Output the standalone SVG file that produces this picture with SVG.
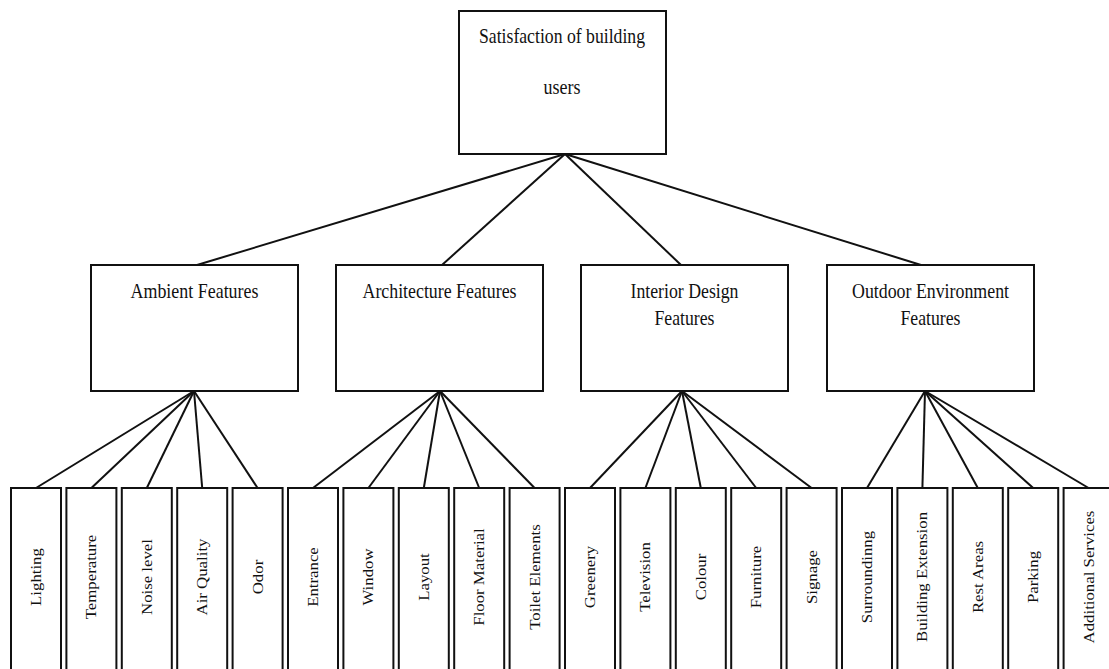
<svg xmlns="http://www.w3.org/2000/svg" width="1109" height="669" viewBox="0 0 1109 669">
<style>
.box{fill:#fff;stroke:#111;stroke-width:2}
.ln{stroke:#111;stroke-width:2;fill:none}
.t{font-family:"Liberation Serif","Times New Roman",serif;font-size:21px;fill:#111;text-anchor:middle}
.lt{font-family:"Liberation Serif","Times New Roman",serif;font-size:16.8px;fill:#111;text-anchor:middle;dominant-baseline:central}
</style>
<rect width="1109" height="669" fill="#fff"/>
<g id="connectors">
<line class="ln" x1="565" y1="154" x2="197" y2="265"/>
<line class="ln" x1="565" y1="154" x2="442" y2="265"/>
<line class="ln" x1="565" y1="154" x2="681" y2="265"/>
<line class="ln" x1="565" y1="154" x2="921" y2="265"/>
<line class="ln" x1="194" y1="391" x2="36" y2="488"/>
<line class="ln" x1="194" y1="391" x2="91.4" y2="488"/>
<line class="ln" x1="194" y1="391" x2="146.8" y2="488"/>
<line class="ln" x1="194" y1="391" x2="202.2" y2="488"/>
<line class="ln" x1="194" y1="391" x2="257.6" y2="488"/>
<line class="ln" x1="440" y1="391" x2="313" y2="488"/>
<line class="ln" x1="440" y1="391" x2="368.4" y2="488"/>
<line class="ln" x1="440" y1="391" x2="423.8" y2="488"/>
<line class="ln" x1="440" y1="391" x2="479.2" y2="488"/>
<line class="ln" x1="440" y1="391" x2="534.6" y2="488"/>
<line class="ln" x1="682" y1="391" x2="590" y2="488"/>
<line class="ln" x1="682" y1="391" x2="645.4" y2="488"/>
<line class="ln" x1="682" y1="391" x2="700.8" y2="488"/>
<line class="ln" x1="682" y1="391" x2="756.2" y2="488"/>
<line class="ln" x1="682" y1="391" x2="811.6" y2="488"/>
<line class="ln" x1="925" y1="391" x2="867" y2="488"/>
<line class="ln" x1="925" y1="391" x2="922.4" y2="488"/>
<line class="ln" x1="925" y1="391" x2="977.8" y2="488"/>
<line class="ln" x1="925" y1="391" x2="1033.2" y2="488"/>
<line class="ln" x1="925" y1="391" x2="1088.6" y2="488"/>
</g>
<g id="root">
<rect class="box" x="459" y="11" width="207" height="143"/>
<text class="t" x="562" y="43" textLength="166" lengthAdjust="spacingAndGlyphs">Satisfaction of building</text>
<text class="t" x="562" y="94" textLength="37" lengthAdjust="spacingAndGlyphs">users</text>
</g>
<g id="ambient">
<rect class="box" x="91" y="265" width="207" height="126"/>
<text class="t" x="194.5" y="298" textLength="128" lengthAdjust="spacingAndGlyphs">Ambient Features</text>
</g>
<g id="architecture">
<rect class="box" x="336" y="265" width="207" height="126"/>
<text class="t" x="439.5" y="298" textLength="154" lengthAdjust="spacingAndGlyphs">Architecture Features</text>
</g>
<g id="interior">
<rect class="box" x="581" y="265" width="207" height="126"/>
<text class="t" x="684.5" y="298" textLength="108" lengthAdjust="spacingAndGlyphs">Interior Design</text>
<text class="t" x="684.5" y="325" textLength="60" lengthAdjust="spacingAndGlyphs">Features</text>
</g>
<g id="outdoor">
<rect class="box" x="827" y="265" width="207" height="126"/>
<text class="t" x="930.5" y="298" textLength="157" lengthAdjust="spacingAndGlyphs">Outdoor Environment</text>
<text class="t" x="930.5" y="325" textLength="60" lengthAdjust="spacingAndGlyphs">Features</text>
</g>
<g id="leaf-lighting"><rect class="box" x="11" y="488" width="50" height="190"/><text class="lt" transform="translate(36 577) scale(0.855 1) rotate(-90)">Lighting</text></g>
<g id="leaf-temperature"><rect class="box" x="66.4" y="488" width="50" height="190"/><text class="lt" transform="translate(91.4 577) scale(0.855 1) rotate(-90)">Temperature</text></g>
<g id="leaf-noise"><rect class="box" x="121.8" y="488" width="50" height="190"/><text class="lt" transform="translate(146.8 577) scale(0.855 1) rotate(-90)">Noise level</text></g>
<g id="leaf-air"><rect class="box" x="177.2" y="488" width="50" height="190"/><text class="lt" transform="translate(202.2 577) scale(0.855 1) rotate(-90)">Air Quality</text></g>
<g id="leaf-odor"><rect class="box" x="232.6" y="488" width="50" height="190"/><text class="lt" transform="translate(257.6 577) scale(0.855 1) rotate(-90)">Odor</text></g>
<g id="leaf-entrance"><rect class="box" x="288" y="488" width="50" height="190"/><text class="lt" transform="translate(313 577) scale(0.855 1) rotate(-90)">Entrance</text></g>
<g id="leaf-window"><rect class="box" x="343.4" y="488" width="50" height="190"/><text class="lt" transform="translate(368.4 577) scale(0.855 1) rotate(-90)">Window</text></g>
<g id="leaf-layout"><rect class="box" x="398.8" y="488" width="50" height="190"/><text class="lt" transform="translate(423.8 577) scale(0.855 1) rotate(-90)">Layout</text></g>
<g id="leaf-floor"><rect class="box" x="454.2" y="488" width="50" height="190"/><text class="lt" transform="translate(479.2 577) scale(0.855 1) rotate(-90)">Floor Material</text></g>
<g id="leaf-toilet"><rect class="box" x="509.6" y="488" width="50" height="190"/><text class="lt" transform="translate(534.6 577) scale(0.855 1) rotate(-90)">Toilet Elements</text></g>
<g id="leaf-greenery"><rect class="box" x="565" y="488" width="50" height="190"/><text class="lt" transform="translate(590 577) scale(0.855 1) rotate(-90)">Greenery</text></g>
<g id="leaf-television"><rect class="box" x="620.4" y="488" width="50" height="190"/><text class="lt" transform="translate(645.4 577) scale(0.855 1) rotate(-90)">Television</text></g>
<g id="leaf-colour"><rect class="box" x="675.8" y="488" width="50" height="190"/><text class="lt" transform="translate(700.8 577) scale(0.855 1) rotate(-90)">Colour</text></g>
<g id="leaf-furniture"><rect class="box" x="731.2" y="488" width="50" height="190"/><text class="lt" transform="translate(756.2 577) scale(0.855 1) rotate(-90)">Furniture</text></g>
<g id="leaf-signage"><rect class="box" x="786.6" y="488" width="50" height="190"/><text class="lt" transform="translate(811.6 577) scale(0.855 1) rotate(-90)">Signage</text></g>
<g id="leaf-surrounding"><rect class="box" x="842" y="488" width="50" height="190"/><text class="lt" transform="translate(867 577) scale(0.855 1) rotate(-90)">Surroundinng</text></g>
<g id="leaf-extension"><rect class="box" x="897.4" y="488" width="50" height="190"/><text class="lt" transform="translate(922.4 577) scale(0.855 1) rotate(-90)">Building Extension</text></g>
<g id="leaf-rest"><rect class="box" x="952.8" y="488" width="50" height="190"/><text class="lt" transform="translate(977.8 577) scale(0.855 1) rotate(-90)">Rest Areas</text></g>
<g id="leaf-parking"><rect class="box" x="1008.2" y="488" width="50" height="190"/><text class="lt" transform="translate(1033.2 577) scale(0.855 1) rotate(-90)">Parking</text></g>
<g id="leaf-additional"><rect class="box" x="1063.6" y="488" width="50" height="190"/><text class="lt" transform="translate(1088.6 577) scale(0.855 1) rotate(-90)">Additional Services</text></g>
</svg>
